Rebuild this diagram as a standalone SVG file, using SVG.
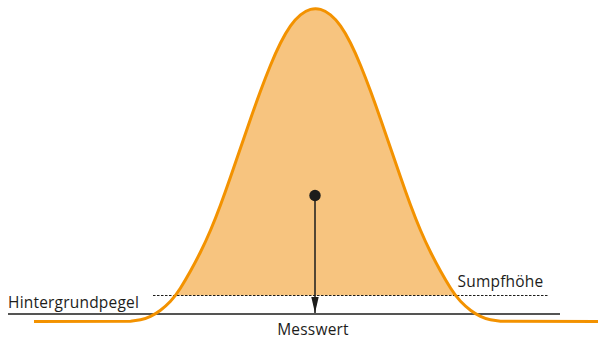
<svg xmlns="http://www.w3.org/2000/svg" width="602" height="339" viewBox="0 0 602 339">
  <style>
    .lbl { font-family: "Open Sans", "Liberation Sans", sans-serif; font-size: 15.5px; fill: #1d1d1b; letter-spacing: 0.2px; }
    .curve-stroke { fill: none; stroke: #f39200; stroke-width: 3; stroke-linejoin: round; }
    .curve-fill { fill: #f7c47f; stroke: none; }
    .base { stroke: #1d1d1b; stroke-width: 1.4; fill: none; }
    .dash { stroke: #1d1d1b; stroke-width: 1; stroke-dasharray: 2.5 1.5; fill: none; }
  </style>
  <defs>
    <path id="curve" d="M34,321.5 L130.5,321.15 Q135.5,320.8 140.5,319.8 Q145.5,318.8 150.5,316.4 Q155.5,314 160.5,310.25 Q165.5,306.5 170.5,301.25 Q175.5,296 180.5,288 Q185.5,280 190.5,271 Q195.5,262 200.5,252 Q205.5,242 210.5,230.25 Q215.5,218.5 220.5,205 Q225.5,191.5 230.5,177 Q235.5,162.5 240.5,148 Q245.5,133.5 250.5,119 Q255.5,104.5 260.5,91 Q265.5,77.5 270.5,65.25 Q275.5,53 280.5,43 Q285.5,33 290.5,25.9 Q295.5,18.8 300.5,14.8 Q305.5,10.8 310.5,9.4 Q315.5,8 320.5,9.4 Q325.5,10.8 330.5,14.8 Q335.5,18.8 340.5,25.9 Q345.5,33 350.5,43 Q355.5,53 360.5,65.25 Q365.5,77.5 370.5,91 Q375.5,104.5 380.5,119 Q385.5,133.5 390.5,148 Q395.5,162.5 400.5,177 Q405.5,191.5 410.5,205 Q415.5,218.5 420.5,230.25 Q425.5,242 430.5,252 Q435.5,262 440.5,271 Q445.5,280 450.5,288 Q455.5,296 460.5,301.25 Q465.5,306.5 470.5,310.25 Q475.5,314 480.5,316.4 Q485.5,318.8 490.5,319.8 Q495.5,320.8 500.5,321.15 L598,321.5"/>
    <clipPath id="aboveSump">
      <rect x="0" y="0" width="602" height="295.5"/>
    </clipPath>
    <marker id="arrowhead" markerUnits="userSpaceOnUse" markerWidth="16" markerHeight="8" refX="16" refY="3.7" orient="auto">
      <path d="M0,0 L16,3.7 L0,7.4 Z" fill="#1d1d1b"/>
    </marker>
  </defs>

  <g id="peak-area">
    <use href="#curve" class="curve-fill" clip-path="url(#aboveSump)"/>
  </g>

  <g id="levels">
    <line class="dash" x1="153" y1="295.5" x2="548" y2="295.5"/>
    <line class="base" x1="8" y1="314" x2="560" y2="314"/>
  </g>

  <g id="peak-curve">
    <use href="#curve" class="curve-stroke"/>
  </g>

  <g id="connectors">
    <line x1="315" y1="196" x2="315" y2="313" stroke="#1d1d1b" stroke-width="1.5" marker-end="url(#arrowhead)"/>
  </g>

  <g id="centroid">
    <circle cx="315" cy="195.5" r="5.7" fill="#1d1d1b"/>
  </g>

  <g id="labels">
    <text class="lbl" x="8" y="307.5">Hintergrundpegel</text>
    <text class="lbl" x="457.5" y="287.3">Sumpfhöhe</text>
    <text class="lbl" x="313" y="334.5" text-anchor="middle">Messwert</text>
  </g>
</svg>
